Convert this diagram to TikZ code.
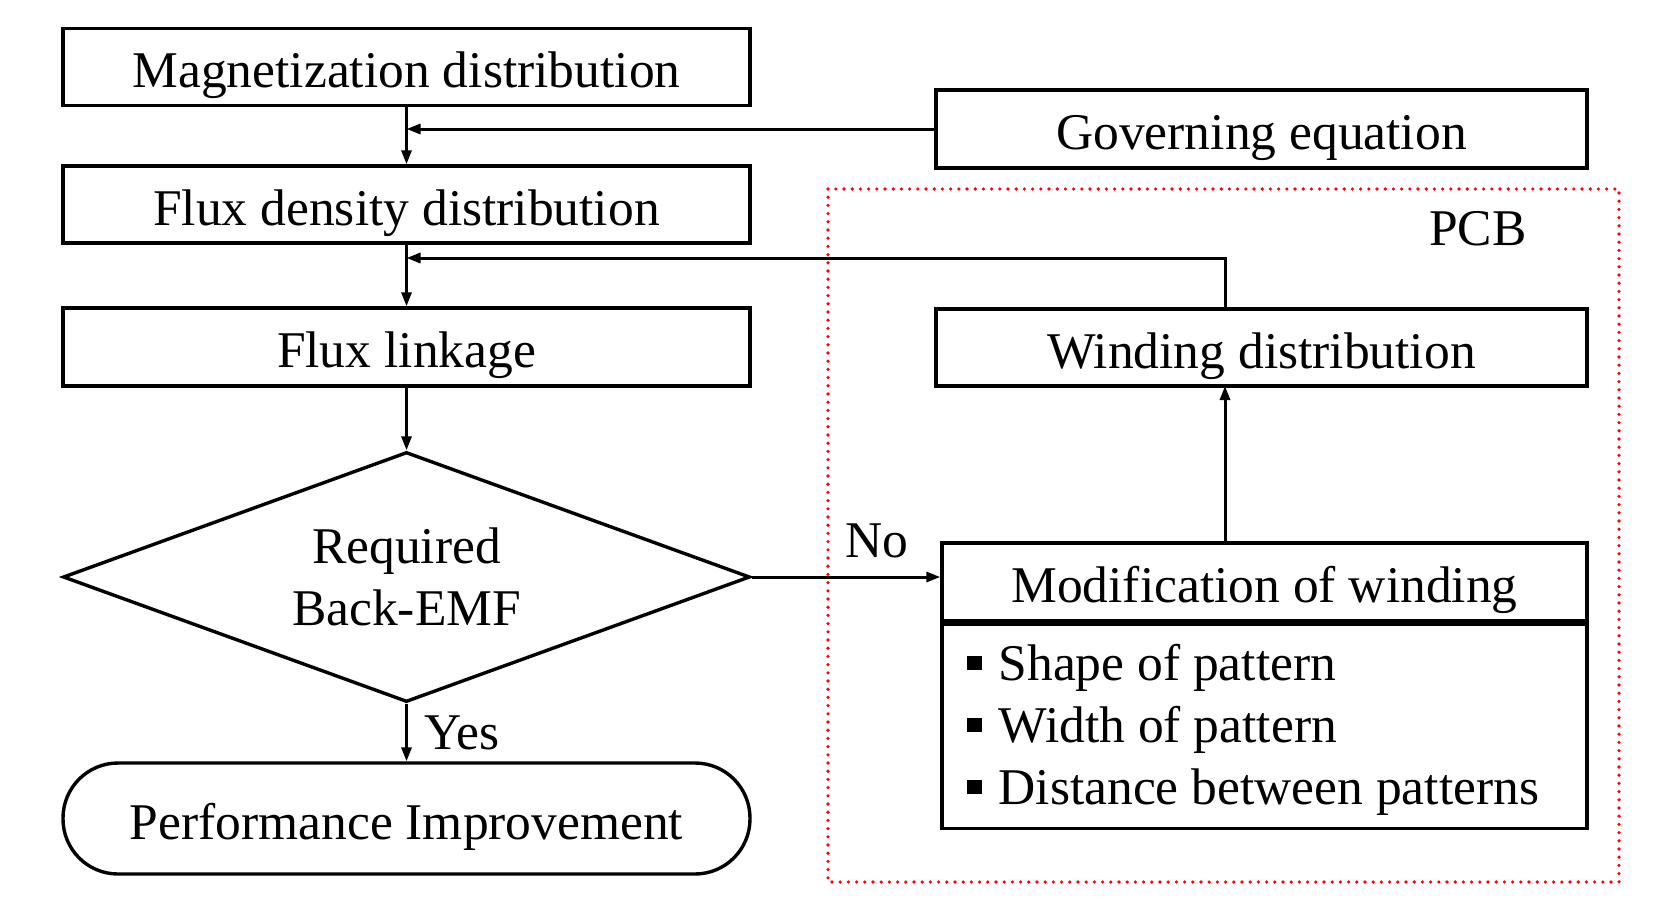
\documentclass[tikz,border=0pt]{standalone}
\usepackage{fontspec}
\setmainfont{Liberation Serif}
\usetikzlibrary{shapes.geometric,arrows.meta,calc}
\newcommand{\sqbul}{\rule[0.2em]{0.29em}{0.28em}\hspace{0.33em}}
\begin{document}
\begin{tikzpicture}[x=1pt,y=-1pt,
  font=\fontsize{51.5}{62}\selectfont,
  line width=3.4pt,
  box/.style={draw,rectangle,inner sep=0pt,minimum width=#1,minimum height=77pt,text height=52pt,text depth=11pt},
  conn/.style={line width=3pt,-{Triangle[length=14pt,width=10pt]}},
  lbl/.style={inner sep=0pt}
]
\useasboundingbox (0,0) rectangle (1673,906);
% PCB region
\draw[red, line width=3.6pt, dash pattern=on 0pt off 8.2pt, line cap=round] (828,189) rectangle (1619,882);
\node[lbl] (pcb) at (1478,229) {PCB};
% left column
\node[box=687pt] (mag) at (406.5,67) {Magnetization distribution};
\node[box=651pt,minimum height=78pt] (gov) at (1261.5,129) {Governing equation};
\node[box=687pt] (flux) at (406.5,204.5) {Flux density distribution};
\node[box=687pt,minimum height=78pt] (link) at (406.5,347) {Flux linkage};
\node[draw,diamond,inner sep=0pt,minimum width=687pt,minimum height=250pt,aspect=2.75,align=center] (req) at (406.5,577) {Required\\Back-EMF};
\node[draw,rectangle,rounded corners=55pt,inner sep=0pt,minimum width=687pt,minimum height=111pt,text height=53pt,text depth=11pt] (perf) at (406.5,818.5) {Performance Improvement};
% right column
\node[box=651pt] (wind) at (1261.5,347.5) {Winding distribution};
\node[box=645pt,minimum height=78pt] (mod) at (1264.5,582) {Modification of winding};
\node[draw,rectangle,inner sep=0pt,minimum width=645pt,minimum height=204pt,anchor=north] (list) at (mod.south) {};
\node[lbl,anchor=west,align=left] (items) at (965,730) {%
\sqbul Shape of pattern\\
\sqbul Width of pattern\\
\sqbul Distance between patterns};
% connectors
\coordinate (g1) at (mag.south |- gov.west);
\draw[conn] (mag.south) -- (flux.north);
\draw[conn] (gov.west) -- (g1);
\draw[conn] (flux.south) -- (link.north);
\coordinate (w1) at (1225,258);
\coordinate (w0) at (1225,309);
\coordinate (w2) at (flux.south |- w1);
\draw[conn] (w0) -- (w1) -- (w2);
\draw[conn] (link.south) -- (req.north);
\draw[conn] (req.east) -- (mod.west |- req.east);
\draw[conn] (req.south) -- (perf.north);
\coordinate (m0) at (1225,543);
\coordinate (m1) at (1225,386);
\draw[conn] (m0) -- (m1);
\node[lbl] (no) at (877,541) {No};
\node[lbl] (yes) at (462,733) {Yes};
\end{tikzpicture}
\end{document}
